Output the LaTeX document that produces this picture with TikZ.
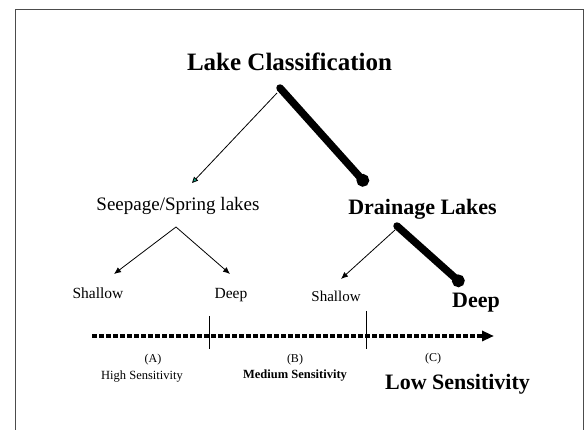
\documentclass[tikz,border=0pt]{standalone}
\usepackage{fontspec}
\setmainfont{Liberation Serif}
\usetikzlibrary{arrows.meta}
\definecolor{tealtip}{RGB}{20,160,130}
\tikzset{
  lbl/.style={anchor=base, inner sep=0pt, font=#1},
  thinarrow/.style={line width=0.8pt, -{Latex[length=7pt,width=6pt]}},
  tealarrow/.style={line width=0.8pt, -{Triangle[length=6pt,width=5.5pt,fill=tealtip]}},
  thickarrow/.style={line width=7.5pt, line cap=round, -{Circle[length=12.5pt,width=12.5pt]}},
  scaleline/.style={line width=3.5pt, dash pattern=on 5pt off 2pt, -{Triangle[length=12pt,width=10pt]}},
  tickline/.style={line width=0.9pt},
  framestyle/.style={line width=0.8pt, draw=black!70}
}
\begin{document}
\begin{tikzpicture}[x=1pt, y=-1pt]
\useasboundingbox (0,0) rectangle (587,430);
\draw[framestyle] (15,432) -- (15,9) -- (583,9) -- (583,432);

% texts
\node[lbl={\fontsize{25}{28}\selectfont\bfseries}] (lc) at (289.5,71) {Lake Classification};
\node[lbl={\fontsize{19}{22}\selectfont}] (sp) at (178,211) {Seepage/Spring lakes};
\node[lbl={\fontsize{22}{25}\selectfont\bfseries}] (dl) at (422.5,215) {Drainage Lakes};
\node[lbl={\fontsize{15.5}{18}\selectfont}] (sh1) at (98,299) {Shallow};
\node[lbl={\fontsize{15.5}{18}\selectfont}] (dp1) at (231,299) {Deep};
\node[lbl={\fontsize{15}{18}\selectfont}] (sh2) at (336,302) {Shallow};
\node[lbl={\fontsize{22}{25}\selectfont\bfseries}] (dp2) at (476,308) {Deep};
\node[lbl={\fontsize{12}{14}\selectfont}] (la) at (153,363) {(A)};
\node[lbl={\fontsize{12}{14}\selectfont}] (lb) at (295,363) {(B)};
\node[lbl={\fontsize{12}{14}\selectfont}] (lcc) at (433,362) {(C)};
\node[lbl={\fontsize{12.5}{14}\selectfont}] (hs) at (142,380) {High Sensitivity};
\node[lbl={\fontsize{12.5}{14}\selectfont\bfseries}] (ms) at (295,379) {Medium Sensitivity};
\node[lbl={\fontsize{22}{25}\selectfont\bfseries}] (ls) at (457.5,390) {Low Sensitivity};

% connector points
\coordinate (lcthin) at (277,93);
\coordinate (lcthick) at (280,88);
\coordinate (spend) at (192,183);
\coordinate (dlend) at (367,185);
\coordinate (spapex) at (176,227);
\coordinate (sh1end) at (114,274);
\coordinate (dp1end) at (230,274);
\coordinate (dlthin) at (395,230);
\coordinate (dlthick) at (397,226);
\coordinate (sh2end) at (341,279);
\coordinate (dp2end) at (463,285);
\coordinate (scstart) at (92,336);
\coordinate (scend) at (494,336);
\coordinate (tka) at (209,316);
\coordinate (tkab) at (209,349);
\coordinate (tkb) at (366,311);
\coordinate (tkbb) at (366,349);

% connectors
\draw[tealarrow] (lcthin) -- (spend);
\draw[thickarrow] (lcthick) -- (dlend);
\draw[thinarrow] (spapex) -- (sh1end);
\draw[thinarrow] (spapex) -- (dp1end);
\draw[thinarrow] (dlthin) -- (sh2end);
\draw[thickarrow] (dlthick) -- (dp2end);

% sensitivity scale
\draw[scaleline] (scstart) -- (scend);
\draw[tickline] (tka) -- (tkab);
\draw[tickline] (tkb) -- (tkbb);
\end{tikzpicture}
\end{document}
